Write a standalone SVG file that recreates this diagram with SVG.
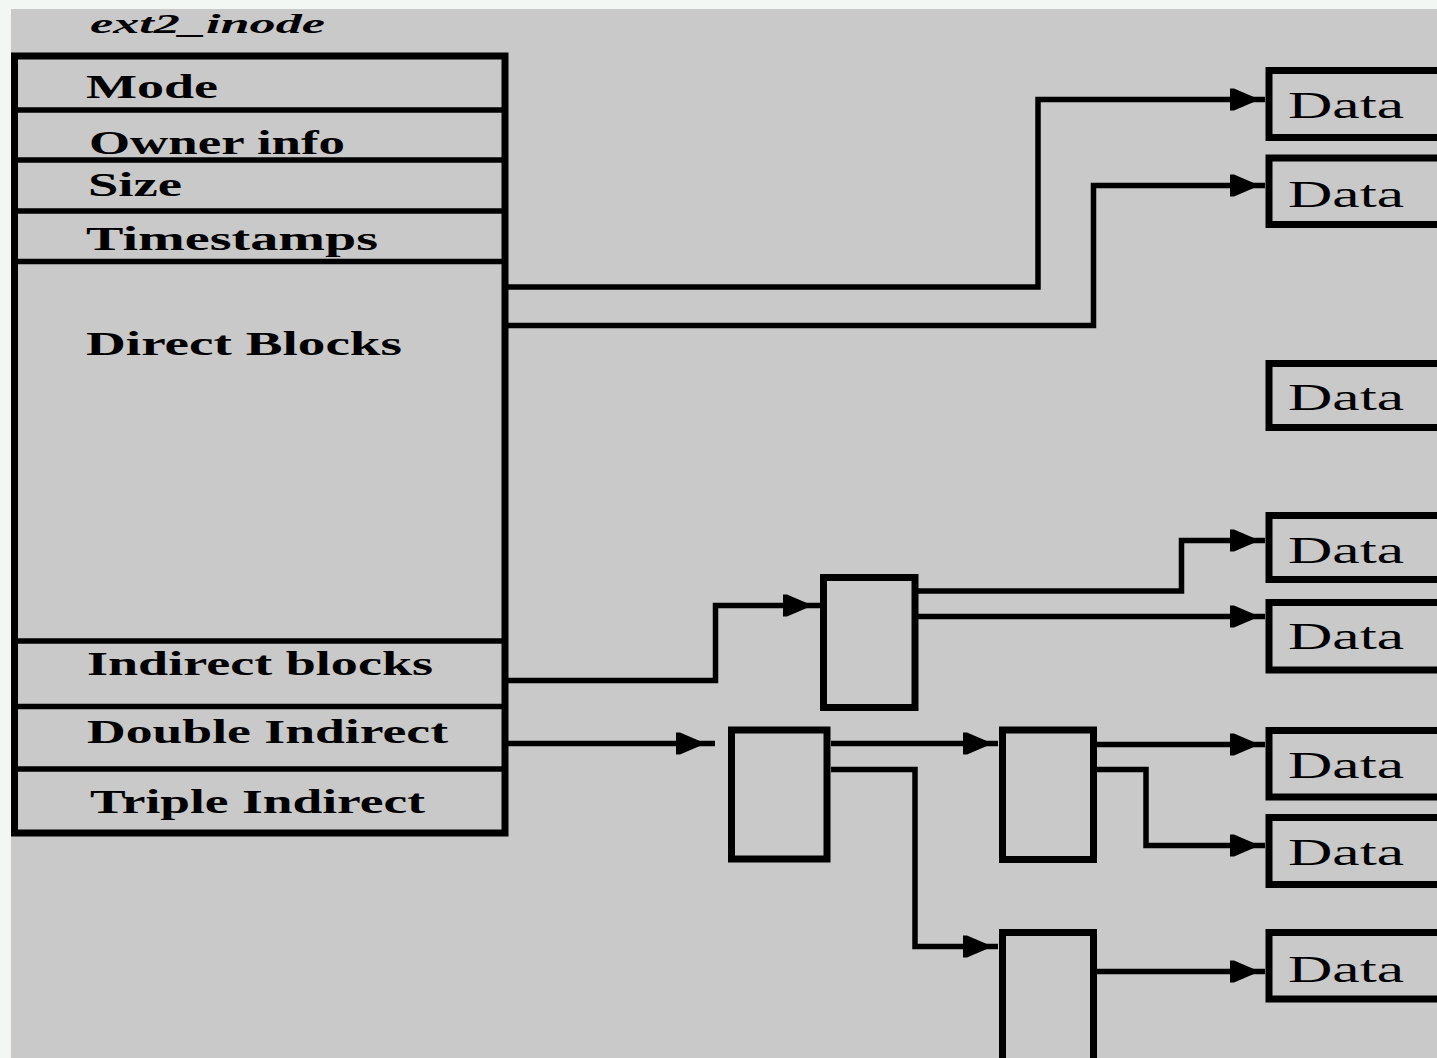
<svg xmlns="http://www.w3.org/2000/svg" xmlns:xlink="http://www.w3.org/1999/xlink" width="1437" height="1058" viewBox="0 0 1437 1058">
<style>
.box{fill:none;stroke:#000;stroke-width:7}
.ln{fill:none;stroke:#000;stroke-width:5.5;stroke-linejoin:miter;stroke-linecap:butt}
.lbl{font-family:"Liberation Serif","DejaVu Serif",serif;font-weight:bold;font-size:33px;fill:#000}
.dat{font-family:"Liberation Serif","DejaVu Serif",serif;font-size:37px;fill:#000}
.ttl{font-family:"Liberation Serif","DejaVu Serif",serif;font-weight:bold;font-style:italic;font-size:28px;fill:#000}
</style>
<defs>
<path id="ah" d="M0,-11 L4,-11 L25,-2 L25,2 L4,11 L0,11 Z" fill="#000"/>
</defs>
<rect x="0" y="0" width="1437" height="1058" fill="#f3f7f3"/>
<rect x="11" y="9" width="1426" height="1049" fill="#c9c9c9"/>

<g id="inode">
<text class="ttl" x="90" y="33" textLength="235" lengthAdjust="spacingAndGlyphs">ext2_inode</text>
<rect class="box" x="14.5" y="56" width="490.5" height="777"/>
<line class="ln" x1="14" y1="110" x2="505" y2="110" stroke-width="6"/>
<line class="ln" x1="14" y1="160" x2="505" y2="160" stroke-width="6"/>
<line class="ln" x1="14" y1="211" x2="505" y2="211" stroke-width="6"/>
<line class="ln" x1="14" y1="261.5" x2="505" y2="261.5" stroke-width="6"/>
<line class="ln" x1="14" y1="641" x2="505" y2="641" stroke-width="6"/>
<line class="ln" x1="14" y1="706.5" x2="505" y2="706.5" stroke-width="6"/>
<line class="ln" x1="14" y1="769" x2="505" y2="769" stroke-width="6"/>
<text class="lbl" x="86" y="98" textLength="132" lengthAdjust="spacingAndGlyphs">Mode</text>
<text class="lbl" x="89" y="154" textLength="256" lengthAdjust="spacingAndGlyphs">Owner info</text>
<text class="lbl" x="88" y="196" textLength="94" lengthAdjust="spacingAndGlyphs">Size</text>
<text class="lbl" x="86" y="250" textLength="292" lengthAdjust="spacingAndGlyphs">Timestamps</text>
<text class="lbl" x="86" y="355" textLength="316" lengthAdjust="spacingAndGlyphs">Direct Blocks</text>
<text class="lbl" x="87" y="675" textLength="346" lengthAdjust="spacingAndGlyphs">Indirect blocks</text>
<text class="lbl" x="87" y="743" textLength="361" lengthAdjust="spacingAndGlyphs">Double Indirect</text>
<text class="lbl" x="90" y="813" textLength="335" lengthAdjust="spacingAndGlyphs">Triple Indirect</text>
</g>

<g id="indirect-block"><rect class="box" x="823.5" y="577.5" width="91.5" height="130"/></g>
<g id="double-indirect-block"><rect class="box" x="731.5" y="730" width="95.5" height="129"/></g>
<g id="double-level2-a"><rect class="box" x="1002.5" y="730" width="91" height="129.5"/></g>
<g id="double-level2-b"><rect class="box" x="1002.5" y="932.5" width="91" height="200"/></g>

<g id="data1"><rect class="box" x="1269" y="70.5" width="220" height="67"/><text class="dat" x="1288" y="118" textLength="116" lengthAdjust="spacingAndGlyphs">Data</text></g>
<g id="data2"><rect class="box" x="1269" y="158" width="220" height="66.5"/><text class="dat" x="1288" y="207" textLength="116" lengthAdjust="spacingAndGlyphs">Data</text></g>
<g id="data3"><rect class="box" x="1269" y="363.5" width="220" height="64"/><text class="dat" x="1288" y="410" textLength="116" lengthAdjust="spacingAndGlyphs">Data</text></g>
<g id="data4"><rect class="box" x="1269" y="515.5" width="220" height="64"/><text class="dat" x="1288" y="563" textLength="116" lengthAdjust="spacingAndGlyphs">Data</text></g>
<g id="data5"><rect class="box" x="1269" y="602.5" width="220" height="67.5"/><text class="dat" x="1288" y="649" textLength="116" lengthAdjust="spacingAndGlyphs">Data</text></g>
<g id="data6"><rect class="box" x="1269" y="730.5" width="220" height="66.5"/><text class="dat" x="1288" y="778" textLength="116" lengthAdjust="spacingAndGlyphs">Data</text></g>
<g id="data7"><rect class="box" x="1269" y="817.5" width="220" height="67"/><text class="dat" x="1288" y="865" textLength="116" lengthAdjust="spacingAndGlyphs">Data</text></g>
<g id="data8"><rect class="box" x="1269" y="932.5" width="220" height="66.5"/><text class="dat" x="1288" y="982" textLength="116" lengthAdjust="spacingAndGlyphs">Data</text></g>

<g id="connectors">
<path class="ln" d="M508,287 H1038 V99.5 H1265"/>
<use xlink:href="#ah" x="1230" y="99.5"/>
<path class="ln" d="M508,325.5 H1093.5 V185.5 H1265"/>
<use xlink:href="#ah" x="1230" y="185.5"/>
<path class="ln" d="M508,680.5 H715.5 V605.5 H820"/>
<use xlink:href="#ah" x="783" y="605.5"/>
<path class="ln" d="M918,591 H1181.5 V540.5 H1265"/>
<use xlink:href="#ah" x="1230" y="540.5"/>
<path class="ln" d="M918,616.5 H1265"/>
<use xlink:href="#ah" x="1230" y="616.5"/>
<path class="ln" d="M508,743.5 H715"/>
<use xlink:href="#ah" x="676" y="743.5"/>
<path class="ln" d="M831,743.5 H998"/>
<use xlink:href="#ah" x="963" y="743.5"/>
<path class="ln" d="M831,769.5 H915 V946.5 H998"/>
<use xlink:href="#ah" x="963" y="946.5"/>
<path class="ln" d="M1097,744.5 H1265"/>
<use xlink:href="#ah" x="1230" y="744.5"/>
<path class="ln" d="M1097,769.5 H1146 V845.5 H1265"/>
<use xlink:href="#ah" x="1230" y="845.5"/>
<path class="ln" d="M1097,971.5 H1265"/>
<use xlink:href="#ah" x="1230" y="971.5"/>
</g>
</svg>
